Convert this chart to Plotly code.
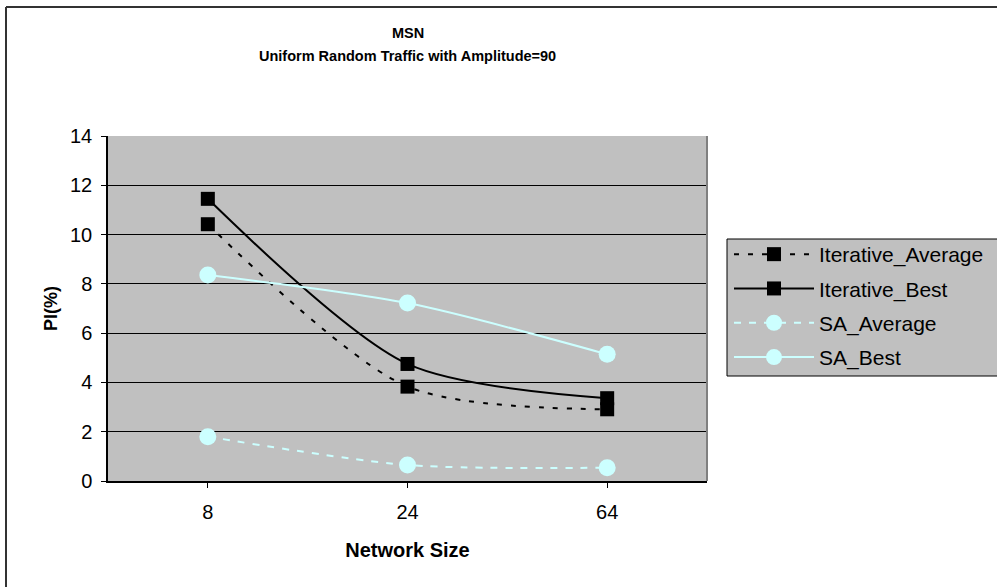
import plotly.graph_objects as go

# Network sizes on the category axis
network_sizes = ["8", "24", "64"]

# PI(%) per method
iterative_average = [10.42, 3.83, 2.91]
iterative_best = [11.45, 4.75, 3.36]
sa_average = [1.80, 0.65, 0.54]
sa_best = [8.36, 7.22, 5.14]

y_ticks = [0, 2, 4, 6, 8, 10, 12, 14]

CYAN = "#CCFFFF"
PLOT_BG = "#C0C0C0"
FONT = "Arial, Liberation Sans, sans-serif"

fig = go.Figure()

series = [
    ("Iterative_Average", iterative_average, "black", "5px,9px", "square", 14),
    ("Iterative_Best", iterative_best, "black", "solid", "square", 14),
    ("SA_Average", sa_average, CYAN, "7px,8px", "circle", 17),
    ("SA_Best", sa_best, CYAN, "solid", "circle", 17),
]

for name, vals, color, dash, symbol, size in series:
    fig.add_trace(go.Scatter(
        x=network_sizes, y=vals, name=name, legendgroup=name,
        mode="lines+markers",
        line=dict(color=color, width=2, dash=dash, shape="spline", smoothing=0.8),
        marker=dict(symbol=symbol, size=size, color=color, line=dict(width=0)),
    ))

W, H = 997, 587
L, R, T, B = 108, 707, 136, 481


def px_x(x):
    return (x - L) / (R - L)


def px_y(y):
    return (B - y) / (B - T)


fig.update_layout(
    width=W, height=H,
    margin=dict(l=L, r=W - R, t=T, b=H - B, autoexpand=False),
    paper_bgcolor="white",
    plot_bgcolor=PLOT_BG,
    font=dict(family=FONT, size=19, color="black"),
    showlegend=True,
    legend=dict(
        x=px_x(729), xanchor="left",
        y=px_y(234), yanchor="top",
        bgcolor="rgba(0,0,0,0)", borderwidth=0,
        font=dict(size=21, color="black"),
        tracegroupgap=4, itemwidth=80,
    ),
    xaxis=dict(
        type="category", range=[-0.5, 2.5],
        showline=True, linecolor="black", linewidth=1.5,
        ticks="outside", ticklen=5, tickcolor="black",
        showgrid=False, tickfont=dict(size=20),
        ticklabelstandoff=7,
        title=dict(text="<b>Network Size</b>", font=dict(size=20), standoff=21),
    ),
    yaxis=dict(
        range=[0, 14], tickvals=y_ticks,
        showline=True, linecolor="black", linewidth=1.5,
        ticks="outside", ticklen=5, tickcolor="black",
        showgrid=True, gridcolor="black", gridwidth=1,
        tickfont=dict(size=20), ticklabelstandoff=5,
        title=dict(text="<b>PI(%)</b>", font=dict(size=18), standoff=8),
        zeroline=False,
    ),
    annotations=[
        dict(text="<b>MSN</b>", x=0.5, xref="paper", y=px_y(33), yref="paper",
             yanchor="middle", showarrow=False, font=dict(size=14.5)),
        dict(text="<b>Uniform Random Traffic with Amplitude=90</b>", x=0.5,
             xref="paper", y=px_y(56), yref="paper", yanchor="middle",
             showarrow=False, font=dict(size=14.5)),
    ],
    shapes=[
        # legend panel
        dict(type="rect", xref="paper", yref="paper",
             x0=px_x(727), x1=px_x(1005), y0=px_y(376), y1=px_y(239),
             fillcolor=PLOT_BG, line=dict(color="black", width=1), layer="below"),
        # right edge of the plot area
        dict(type="line", xref="paper", yref="paper", x0=1, x1=1, y0=0, y1=1,
             line=dict(color="#808080", width=2)),
        # outer chart frame (top and left edges)
        dict(type="line", xref="paper", yref="paper",
             x0=px_x(6), x1=px_x(1005), y0=px_y(7), y1=px_y(7),
             line=dict(color="#333333", width=2)),
        dict(type="line", xref="paper", yref="paper",
             x0=px_x(6), x1=px_x(6), y0=px_y(7), y1=px_y(600),
             line=dict(color="#333333", width=2)),
    ],
)

fig.write_html("out.html")
